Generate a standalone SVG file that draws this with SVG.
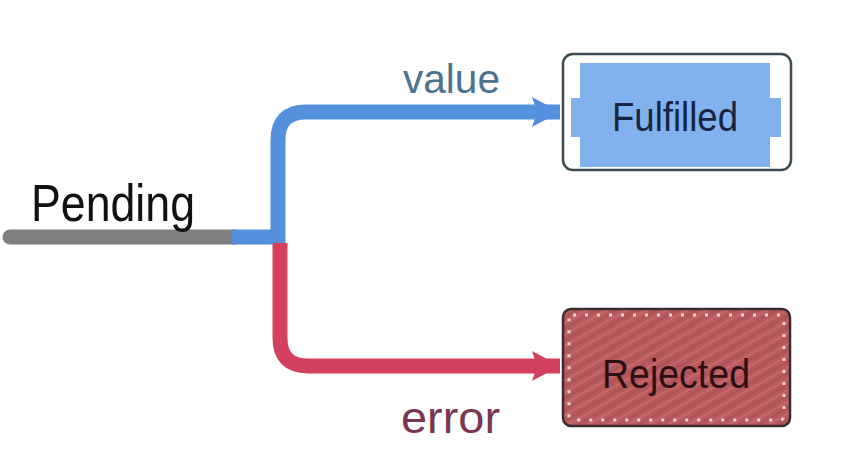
<svg xmlns="http://www.w3.org/2000/svg" width="864" height="468" viewBox="0 0 864 468">
  <defs>
    <style>
      .lbl { font-family: "Liberation Sans", Arial, sans-serif; }
      .conn { fill: none; stroke-width: 15; }
    </style>
    <marker id="ahBlue" markerUnits="userSpaceOnUse" markerWidth="30" markerHeight="32" refX="28" refY="16" orient="auto">
      <path d="M0 1 L28 16 L0 31 L5 16 Z" fill="#5590df"/>
    </marker>
    <marker id="ahRed" markerUnits="userSpaceOnUse" markerWidth="30" markerHeight="32" refX="28" refY="16" orient="auto">
      <path d="M0 1 L28 16 L0 31 L5 16 Z" fill="#d2405e"/>
    </marker>
    <pattern id="hatch" width="10" height="10" patternUnits="userSpaceOnUse" patternTransform="rotate(-30)">
      <rect width="10" height="10" fill="#b75a5d"/>
      <line x1="0" y1="2" x2="10" y2="2" stroke="#c9666a" stroke-width="2"/>
      <line x1="0" y1="7" x2="10" y2="7" stroke="#a94f52" stroke-width="1.5"/>
    </pattern>
  </defs>
  <rect width="864" height="468" fill="#ffffff"/>

  <g id="connectors">
    <path class="conn" d="M 10 237 H 234" stroke="#808080" stroke-linecap="round"/>
    <path class="conn" d="M 232 237 H 278 V 140 Q 278 112 306 112 H 560" stroke="#5590df" marker-end="url(#ahBlue)"/>
    <path class="conn" d="M 280 243 V 338 Q 280 366 308 366 H 560" stroke="#d2405e" marker-end="url(#ahRed)"/>
    <text class="lbl" x="403" y="93" font-size="41" fill="#4b7390" textLength="97" lengthAdjust="spacingAndGlyphs">value</text>
    <text class="lbl" x="401" y="433" font-size="45" fill="#7a3552" textLength="99" lengthAdjust="spacingAndGlyphs">error</text>
  </g>

  <g id="pending">
    <text class="lbl" x="31" y="221" font-size="52" fill="#111111" textLength="164" lengthAdjust="spacingAndGlyphs">Pending</text>
  </g>

  <g id="fulfilled">
    <rect x="563" y="54" width="228" height="116" rx="10" fill="#ffffff" stroke="#3e4a52" stroke-width="2.5"/>
    <rect x="580" y="63" width="190" height="104" fill="#82b2ee"/>
    <rect x="571" y="98" width="210" height="39" fill="#82b2ee"/>
    <text class="lbl" x="612" y="131" font-size="41" fill="#182442" textLength="126" lengthAdjust="spacingAndGlyphs">Fulfilled</text>
  </g>

  <g id="rejected">
    <rect x="563" y="309" width="227" height="117" rx="8" fill="url(#hatch)" stroke="#3a2c2e" stroke-width="2.5"/>
    <rect x="569" y="315" width="215" height="105" rx="4" fill="none" stroke="#f2d6d6" stroke-width="3" stroke-dasharray="3 9"/>
    <text class="lbl" x="602" y="388" font-size="41" fill="#2a1012" textLength="148" lengthAdjust="spacingAndGlyphs">Rejected</text>
  </g>
</svg>
